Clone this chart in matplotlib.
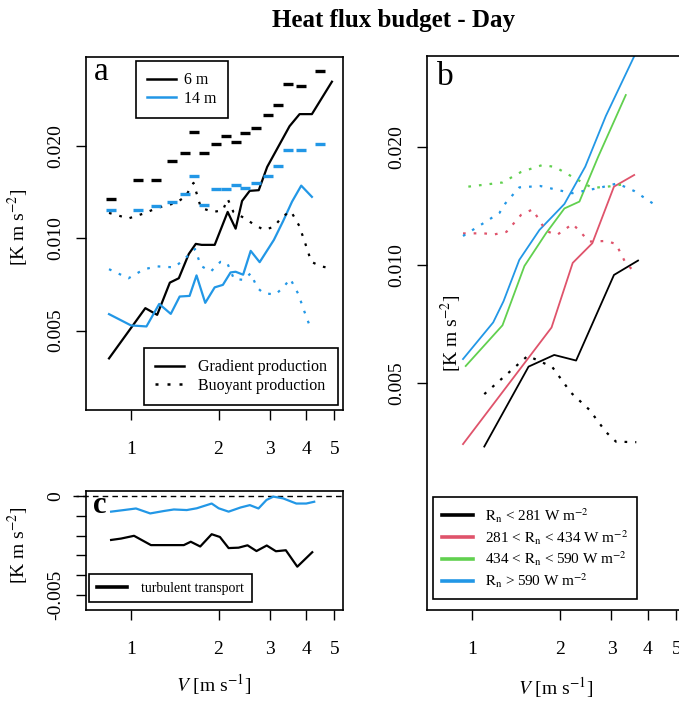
import numpy as np
import matplotlib
matplotlib.use("Agg")
import matplotlib.pyplot as plt
from matplotlib.lines import Line2D
from matplotlib.ticker import NullLocator

plt.rcParams['font.family'] = ['Liberation Serif', 'DejaVu Serif']
plt.rcParams['mathtext.fontset'] = 'stix'

BLACK = 'black'
RED = '#DF536B'
GREEN = '#61D04F'
BLUE = '#2297E6'

# ---- panel a: 6 m and 14 m ----
a_grad6_x = [0.84, 1.12, 1.23, 1.36, 1.46, 1.58, 1.67, 1.75, 1.94, 2.15, 2.29, 2.41, 2.56, 2.75, 2.94, 3.51, 3.80, 4.19, 4.91]
a_grad6_y = [0.00406, 0.00592, 0.00563, 0.00717, 0.00741, 0.00889, 0.00959, 0.00952, 0.00952, 0.01219, 0.01075,
             0.01324, 0.01428, 0.01435, 0.01709, 0.0232, 0.0254, 0.0254, 0.0324]
a_grad14_x = [0.84, 1.00, 1.13, 1.25, 1.37, 1.47, 1.59, 1.68, 1.80, 1.94, 2.07, 2.20, 2.29, 2.43, 2.58, 2.77, 3.10,
              3.33, 3.58, 3.85, 4.19]
a_grad14_y = [0.00566, 0.00520, 0.00516, 0.00611, 0.00567, 0.00646, 0.00649, 0.00757, 0.00616, 0.00692, 0.00705,
              0.00774, 0.00778, 0.00761, 0.00910, 0.00836, 0.00988, 0.01134, 0.01317, 0.01485, 0.01365]
a_buoy6_x = [0.84, 0.98, 1.11, 1.23, 1.43, 1.54, 1.64, 1.74, 1.92, 2.07, 2.15, 2.25, 2.48, 2.66, 2.87, 3.10, 3.32,
             3.55, 3.79, 3.98, 4.17, 4.51, 4.88]
a_buoy6_y = [0.01210, 0.01161, 0.01206, 0.01256, 0.01305, 0.01370, 0.01516, 0.01256, 0.01219, 0.01235, 0.01344,
             0.01219, 0.01157, 0.01106, 0.01065, 0.01090, 0.01179, 0.01224, 0.01098, 0.00959, 0.00838, 0.00810, 0.00798]
a_buoy14_x = [0.84, 0.98, 1.11, 1.23, 1.41, 1.52, 1.66, 1.74, 1.88, 2.03, 2.14, 2.26, 2.44, 2.58, 2.72, 2.86, 3.14,
              3.34, 3.53, 3.76, 3.94, 4.15]
a_buoy14_y = [0.00793, 0.00741, 0.00793, 0.00810, 0.00804, 0.00853, 0.00923, 0.00813, 0.00779, 0.00838, 0.00833,
              0.00737, 0.00732, 0.00769, 0.00689, 0.00662, 0.00656, 0.00692, 0.00738, 0.00659, 0.00580, 0.00508]
# short horizontal marks
a_bin_x = [0.854, 1.054, 1.218, 1.382, 1.535, 1.648, 1.782, 1.954, 2.127, 2.288, 2.476, 2.694, 2.962, 3.205, 3.457,
           3.842, 4.485]
a_mark6 = [0.01348, 0.01547, 0.01547, 0.01784, 0.01903, 0.02224, 0.01903, 0.02027, 0.02163, 0.02067, 0.02202,
           0.02291, 0.02526, 0.02717, 0.03181, 0.03141, 0.03507]
a_mark14 = [0.01233, 0.01233, 0.01275, 0.01314, 0.01399, 0.01594, 0.01282, 0.01452, 0.01452, 0.01497, 0.01460,
            0.01516, 0.01594, 0.01726, 0.01942, 0.01942, 0.02027]

# ---- panel b: classes of net radiation ----
rn_labels = [r'$\mathrm{R_n}$ < 281 W m$^{-2}$',
             r'281 < $\mathrm{R_n}$ < 434 W m$^{-2}$',
             r'434 < $\mathrm{R_n}$ < 590 W m$^{-2}$',
             r'$\mathrm{R_n}$ > 590 W m$^{-2}$']
b_grad_x = [[1.10, 1.56, 1.91, 2.27, 3.06, 3.70],
            [0.93, 1.87, 2.21, 2.58, 3.06, 3.59],
            [0.95, 1.27, 1.51, 1.79, 2.07, 2.33, 2.70, 3.36],
            [0.93, 1.18, 1.28, 1.45, 1.70, 2.07, 2.44, 2.87, 3.73]]
b_grad_y = [[0.00344, 0.00550, 0.00589, 0.00570, 0.00942, 0.01025],
            [0.00349, 0.00692, 0.01011, 0.01135, 0.01582, 0.01694],
            [0.00552, 0.00701, 0.00993, 0.01203, 0.01392, 0.01449, 0.01883, 0.02709],
            [0.00575, 0.00713, 0.00807, 0.01029, 0.01227, 0.01429, 0.01779, 0.02395, 0.0361]]
b_buoy_x = [[1.10, 1.55, 1.88, 2.18, 2.52, 2.87, 3.11, 3.65],
            [0.93, 1.09, 1.19, 1.31, 1.47, 1.61, 1.79, 1.95, 2.21, 2.52, 2.88, 3.11, 3.34, 3.54],
            [0.97, 1.27, 1.47, 1.74, 1.92, 2.21, 2.58, 2.95, 3.36],
            [0.93, 1.09, 1.24, 1.30, 1.45, 1.71, 2.20, 2.72, 3.14, 3.59, 4.15]]
b_buoy_y = [[0.00468, 0.00586, 0.00549, 0.00472, 0.00427, 0.00375, 0.00354, 0.00353],
            [0.01202, 0.01203, 0.01195, 0.01213, 0.01340, 0.01384, 0.01220, 0.01191, 0.01271, 0.01146, 0.01150,
             0.01130, 0.01017, 0.00970],
            [0.01582, 0.01621, 0.01724, 0.01796, 0.01776, 0.01674, 0.01570, 0.01584, 0.01607],
            [0.01184, 0.01275, 0.01356, 0.01435, 0.01575, 0.01588, 0.01522, 0.01570, 0.01612, 0.01542, 0.01435]]
b_colors = [BLACK, RED, GREEN, BLUE]

# ---- panel c: turbulent transport ----
c_x14 = [0.854, 0.944, 1.040, 1.164, 1.294, 1.404, 1.555, 1.683, 1.894, 2.002, 2.166, 2.381, 2.563, 2.744, 2.924,
         3.088, 3.334, 3.703, 4.006, 4.267]
c_y14 = [-0.00079, -0.00071, -0.00063, -0.00088, -0.00076, -0.00068, -0.00071, -0.00062, -0.00038, -0.00062,
         -0.00079, -0.00058, -0.00046, -0.00063, -0.00020, -0.00003, -0.00012, -0.00038, -0.00038, -0.00029]
c_x6 = [0.854, 0.924, 1.024, 1.171, 1.519, 1.605, 1.730, 1.894, 2.022, 2.166, 2.344, 2.516, 2.701, 2.930, 3.150,
        3.408, 3.732, 4.201]
c_y6 = [-0.00222, -0.00215, -0.00201, -0.00248, -0.00248, -0.00231, -0.00255, -0.00193, -0.00207, -0.00263,
        -0.00261, -0.00249, -0.00278, -0.00250, -0.00279, -0.00274, -0.00357, -0.00284]

x_ticks = [1, 2, 3, 4, 5]
log_yticks = [0.005, 0.010, 0.020]
W, H = 679, 701


def fx(px):
    return px / W


def fy(py):
    return 1 - py / H


def box(l, t, r, b):
    return [fx(l), fy(b), fx(r) - fx(l), fy(t) - fy(b)]


DOT = (0, (1.2, 3.6))

fig = plt.figure(figsize=(W / 100, H / 100), dpi=100)
ax_a = fig.add_axes(box(86, 57, 343, 410))
ax_b = fig.add_axes(box(427, 56, 685, 610))
ax_c = fig.add_axes(box(86, 491, 343, 610))

ax_a.set_yscale('log')
ax_a.set_ylim(0.002756, 0.0390)
ax_b.set_yscale('log')
ax_b.set_ylim(0.001318, 0.03406)
ax_c.set_ylim(-0.005758, 0.000253)

for ax in (ax_a, ax_b, ax_c):
    ax.set_xscale('log')
    ax.set_xlim(0.7, 5.36)
    ax.xaxis.set_minor_locator(NullLocator())
    ax.set_xticks(x_ticks)
    ax.set_xticklabels([str(t) for t in x_ticks])
    ax.tick_params(direction='out', length=7, width=1, labelsize=14, pad=9)
    ax.tick_params(axis='x', pad=15)
    for s in ax.spines.values():
        s.set_linewidth(1.2)

for ax in (ax_a, ax_b):
    ax.yaxis.set_minor_locator(NullLocator())
    ax.set_yticks(log_yticks)
    ax.set_yticklabels(['%.3f' % v for v in log_yticks], rotation=90, va='center')

# panel a
ax_a.plot(a_grad6_x, a_grad6_y, color=BLACK, lw=1.6)
ax_a.plot(a_grad14_x, a_grad14_y, color=BLUE, lw=1.6)
ax_a.plot(a_buoy6_x, a_buoy6_y, color=BLACK, lw=1.6, linestyle=DOT)
ax_a.plot(a_buoy14_x, a_buoy14_y, color=BLUE, lw=1.6, linestyle=DOT)
ax_a.plot(a_bin_x, a_mark6, linestyle='none', marker='_', ms=7, mew=2.4, color=BLACK)
ax_a.plot(a_bin_x, a_mark14, linestyle='none', marker='_', ms=7, mew=2.4, color=BLUE)

leg_kw = dict(frameon=True, fancybox=False, edgecolor='black', framealpha=1, borderaxespad=0,
              bbox_transform=fig.transFigure, loc='upper left')
h1 = [Line2D([], [], color=BLACK, lw=1.8), Line2D([], [], color=BLUE, lw=1.8)]
leg1 = ax_a.legend(h1, ['6 m', '14 m'], bbox_to_anchor=(fx(136), fy(61)), handlelength=1.8, fontsize=11.5,
                   handletextpad=0.5, labelspacing=0.15, borderpad=0.7, **leg_kw)
leg1.get_frame().set_linewidth(1.2)
ax_a.add_artist(leg1)
h2 = [Line2D([], [], color=BLACK, lw=1.8), Line2D([], [], color=BLACK, lw=1.8, linestyle=DOT)]
leg2 = ax_a.legend(h2, ['Gradient production', 'Buoyant production'], bbox_to_anchor=(fx(144), fy(348)),
                   handlelength=1.8, handletextpad=0.9, labelspacing=0.15, borderpad=0.7, fontsize=11.5, **leg_kw)
leg2.get_frame().set_linewidth(1.2)

# panel b
for xs, ys, c in zip(b_grad_x, b_grad_y, b_colors):
    ax_b.plot(xs, ys, color=c, lw=1.3)
for xs, ys, c in zip(b_buoy_x, b_buoy_y, b_colors):
    ax_b.plot(xs, ys, color=c, lw=1.6, linestyle=DOT)
hb = [Line2D([], [], color=c, lw=2.6) for c in b_colors]
leg3 = ax_b.legend(hb, rn_labels, bbox_to_anchor=(fx(433), fy(497)), handlelength=2.0, fontsize=11,
                   handletextpad=0.8, labelspacing=0.2, borderpad=0.6, **leg_kw)
leg3.get_frame().set_linewidth(1.2)
ax_b.spines['right'].set_visible(False)

# panel c
ax_c.set_yticks([0, -0.001, -0.002, -0.003, -0.004, -0.005])
ax_c.set_yticklabels(['0', '', '', '', '', '-0.005'], rotation=90, va='center')
ax_c.axhline(0, xmin=-0.05, xmax=1, color='black', lw=1, linestyle=(0, (4, 3)), clip_on=False)
ax_c.plot(c_x14, c_y14, color=BLUE, lw=1.6)
ax_c.plot(c_x6, c_y6, color=BLACK, lw=1.6)
hc = [Line2D([], [], color=BLACK, lw=2.6)]
leg4 = ax_c.legend(hc, ['turbulent transport'], bbox_to_anchor=(fx(89), fy(574)), handlelength=2.2,
                   handletextpad=1.0, borderpad=0.55, fontsize=10, **leg_kw)
leg4.get_frame().set_linewidth(1.2)

# texts
fig.text(fx(393), fy(20), 'Heat flux budget - Day', ha='center', va='center', fontsize=18, fontweight='bold')
fig.text(fx(94), fy(80), 'a', fontsize=24, va='baseline')
fig.text(fx(437), fy(85), 'b', fontsize=24, va='baseline')
fig.text(fx(93), fy(513), 'c', fontsize=22, va='baseline', fontweight='bold')
ylab = r'[K m s$^{-2}$]'
fig.text(fx(18), fy(227), ylab, rotation=90, ha='center', va='center', fontsize=14)
fig.text(fx(18), fy(545), ylab, rotation=90, ha='center', va='center', fontsize=14)
fig.text(fx(451), fy(333), ylab, rotation=90, ha='center', va='center', fontsize=14)
xlab = r'$V$ [m s$^{-1}$]'
fig.text(fx(214), fy(685), xlab, ha='center', va='center', fontsize=14)
fig.text(fx(556), fy(688), xlab, ha='center', va='center', fontsize=14)

fig.savefig('out.png', dpi=100)
